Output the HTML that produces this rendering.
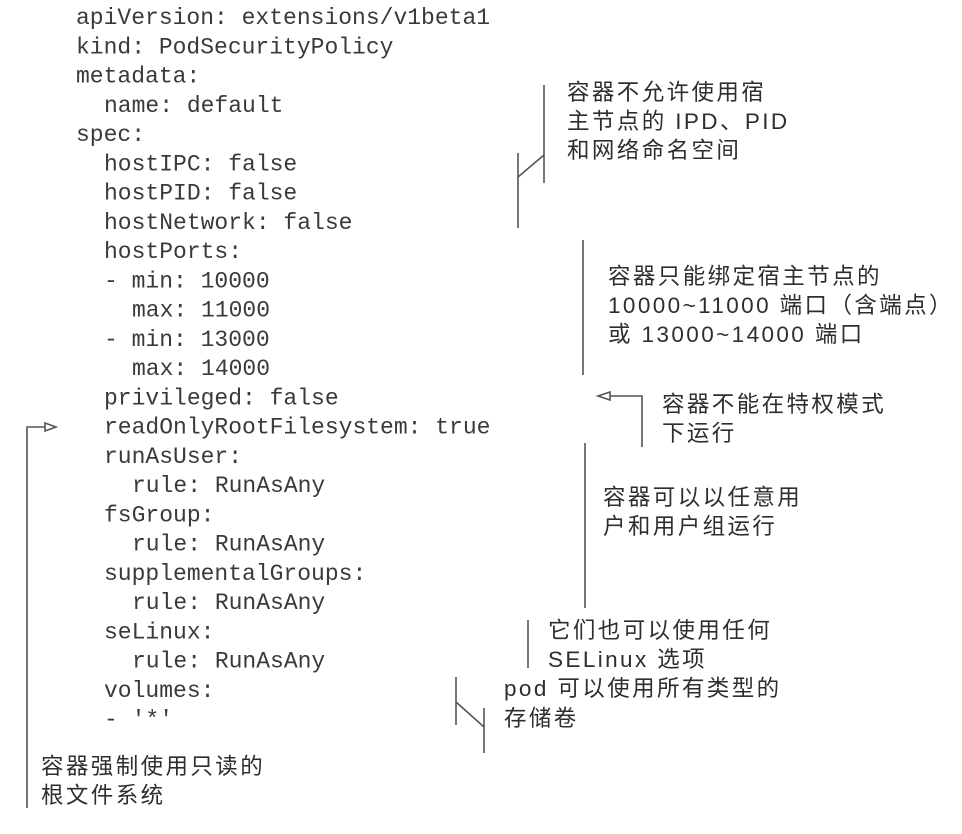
<!DOCTYPE html>
<html><head><meta charset="utf-8"><style>
html,body{margin:0;padding:0;background:#fff;}
svg{display:block;}
.c{font-family:"Liberation Mono",monospace;font-size:23px;fill:#3a3a3a;}
.t{font-family:"Liberation Sans","Noto Sans CJK SC",sans-serif;font-size:22.5px;letter-spacing:2.4px;fill:#2e2e2e;}
line,polyline,path{stroke:#555;stroke-width:1.6;fill:none;}
</style></head><body>
<svg width="962" height="834" viewBox="0 0 962 834" xmlns="http://www.w3.org/2000/svg">
<g class="c">
<text x="76" y="24">apiVersion: extensions/v1beta1</text>
<text x="76" y="53.3">kind: PodSecurityPolicy</text>
<text x="76" y="82.5">metadata:</text>
<text x="104" y="111.8">name: default</text>
<text x="76" y="141">spec:</text>
<text x="104" y="170.3">hostIPC: false</text>
<text x="104" y="199.5">hostPID: false</text>
<text x="104" y="228.8">hostNetwork: false</text>
<text x="104" y="258">hostPorts:</text>
<text x="104" y="287.3">- min: 10000</text>
<text x="132" y="316.5">max: 11000</text>
<text x="104" y="345.8">- min: 13000</text>
<text x="132" y="375">max: 14000</text>
<text x="104" y="404.3">privileged: false</text>
<text x="104" y="433.5">readOnlyRootFilesystem: true</text>
<text x="104" y="462.8">runAsUser:</text>
<text x="132" y="492">rule: RunAsAny</text>
<text x="104" y="521.3">fsGroup:</text>
<text x="132" y="550.5">rule: RunAsAny</text>
<text x="104" y="579.8">supplementalGroups:</text>
<text x="132" y="609">rule: RunAsAny</text>
<text x="104" y="638.3">seLinux:</text>
<text x="132" y="667.5">rule: RunAsAny</text>
<text x="104" y="696.8">volumes:</text>
<text x="104" y="726">- '*'</text>
</g>
<!-- connector 1 -->
<line x1="544" y1="85" x2="544" y2="183"/>
<line x1="518" y1="153" x2="518" y2="228"/>
<line x1="518" y1="177" x2="544" y2="155"/>
<text class="t" x="567" y="100">容器不允许使用宿</text>
<text class="t" x="567" y="129">主节点的 IPD、PID</text>
<text class="t" x="567" y="158">和网络命名空间</text>
<!-- connector 2 -->
<line x1="583" y1="240" x2="583" y2="375"/>
<text class="t" x="608" y="284">容器只能绑定宿主节点的</text>
<text class="t" x="608" y="313">10000~11000 端口（含端点）</text>
<text class="t" x="608" y="342">或 13000~14000 端口</text>
<!-- connector 3 -->
<polyline points="610,396 642,396 642,447"/>
<path d="M610,392 L598,396 L610,400 Z" style="fill:#fff"/>
<text class="t" x="662" y="412">容器不能在特权模式</text>
<text class="t" x="662" y="441">下运行</text>
<!-- connector 4 -->
<line x1="585" y1="443" x2="585" y2="608"/>
<text class="t" x="603" y="505">容器可以以任意用</text>
<text class="t" x="603" y="534">户和用户组运行</text>
<!-- connector 5 -->
<line x1="528" y1="620" x2="528" y2="668"/>
<text class="t" x="548" y="638">它们也可以使用任何</text>
<text class="t" x="548" y="667">SELinux 选项</text>
<!-- connector 6 -->
<line x1="456" y1="677" x2="456" y2="725"/>
<line x1="456" y1="702" x2="484" y2="727"/>
<line x1="484" y1="708" x2="484" y2="753"/>
<text class="t" x="504" y="696">pod 可以使用所有类型的</text>
<text class="t" x="504" y="726">存储卷</text>
<!-- connector 7 -->
<polyline points="27,808 27,427 45,427"/>
<path d="M45,423 L56,427 L45,431 Z" style="fill:#fff"/>
<text class="t" x="41" y="774">容器强制使用只读的</text>
<text class="t" x="41" y="803">根文件系统</text>
</svg>
</body></html>
